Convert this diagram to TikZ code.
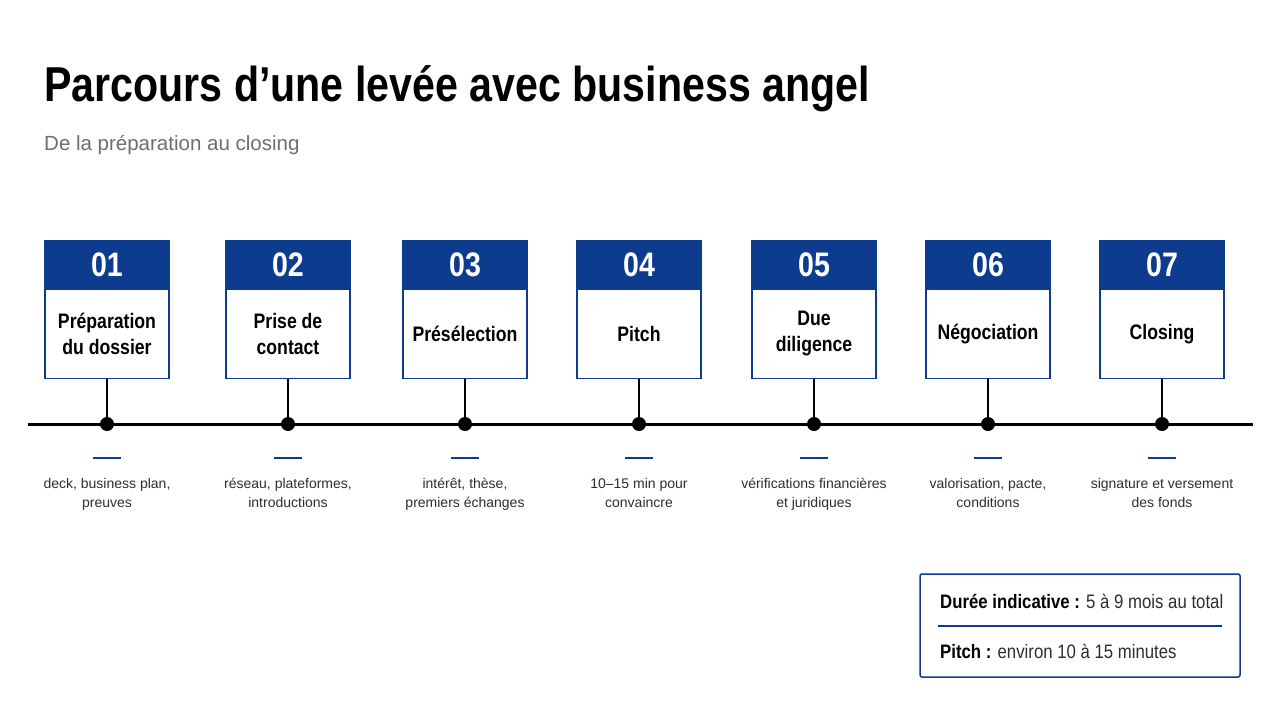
\documentclass[tikz,border=0pt]{standalone}
\usepackage{fontspec}
\setmainfont{Liberation Sans}
\newfontfamily\condfont[FakeStretch=0.84]{Liberation Sans}
\newfontfamily\infofont[FakeStretch=0.86]{Liberation Sans}
\definecolor{navy}{HTML}{0D3B8E}
\definecolor{txtgray}{HTML}{2E2E2E}
\definecolor{subgray}{HTML}{6E6E6E}
\begin{document}
\begin{tikzpicture}[x=1pt,y=-1pt,
  head/.style={fill=navy,draw=navy,line width=1.2pt,minimum width=124pt,minimum height=47pt,inner sep=0pt,
     text=white,font=\condfont\bfseries\fontsize{34}{34}\selectfont},
  body/.style={fill=white,draw=navy,line width=1.2pt,minimum width=124pt,minimum height=89pt,inner sep=0pt,
     align=center,font=\condfont\bfseries\fontsize{21}{26}\selectfont,text=black},
  dot/.style={circle,fill=black,minimum size=14pt,inner sep=0pt},
  stem/.style={line width=1.3pt,black},
  tick/.style={fill=navy,minimum width=28pt,minimum height=2.2pt,inner sep=0pt},
  desc/.style={align=center,anchor=north,inner sep=0pt,font=\fontsize{14}{19}\selectfont,text=txtgray},
]
\useasboundingbox (0,0) rectangle (1280,720);
\fill[white] (0,0) rectangle (1280,720);

\node[anchor=base west,inner sep=0pt,font=\condfont\bfseries\fontsize{49}{49}\selectfont] (title) at (44,101) {Parcours d’une levée avec business angel};
\node[anchor=base west,inner sep=0pt,text=subgray,font=\fontsize{20.5}{20.5}\selectfont] (sub) at (44,150) {De la préparation au closing};

\coordinate (tlL) at (28,424);
\coordinate (tlR) at (1253,424);
\draw[line width=3pt] (tlL) -- (tlR);

\foreach \i/\x/\n/\t/\d in {
  1/107/01/{Préparation\\du dossier}/{deck, business plan,\\preuves},
  2/288/02/{Prise de\\contact}/{réseau, plateformes,\\introductions},
  3/465/03/{Présélection}/{intérêt, thèse,\\premiers échanges},
  4/639/04/{Pitch}/{10–15 min pour\\convaincre},
  5/814/05/{Due\\diligence}/{vérifications financières\\et juridiques},
  6/988/06/{Négociation}/{valorisation, pacte,\\conditions},
  7/1162/07/{Closing}/{signature et versement\\des fonds}}{
  \node[head] (h\i) at (\x,264.5) {\n};
  \node[body,anchor=north] (b\i) at (h\i.south) {\t};
  \node[dot] (d\i) at (\x,424) {};
  \draw[stem] (b\i.south) -- (d\i.center);
  \node[tick] (k\i) at (\x,458) {};
  \node[desc] (t\i) at (\x,474.5) {\strut\d};
}

\node[draw=navy,line width=1.5pt,rounded corners=2pt,minimum width=320pt,minimum height=103pt,inner sep=0pt] (info) at (1080,625.5) {};
\node[anchor=base west,inner sep=0pt,font=\infofont\fontsize{19.5}{19.5}\selectfont,text=txtgray] (i1) at (940,608) {{\bfseries\color{black}Durée indicative :} 5 à 9 mois au total};
\node[anchor=base west,inner sep=0pt,font=\infofont\fontsize{19.5}{19.5}\selectfont,text=txtgray] (i2) at (940,658) {{\bfseries\color{black}Pitch :} environ 10 à 15 minutes};
\coordinate (sepL) at (938,626);
\coordinate (sepR) at (1222,626);
\draw[navy,line width=1.2pt] (sepL) -- (sepR);
\end{tikzpicture}
\end{document}
